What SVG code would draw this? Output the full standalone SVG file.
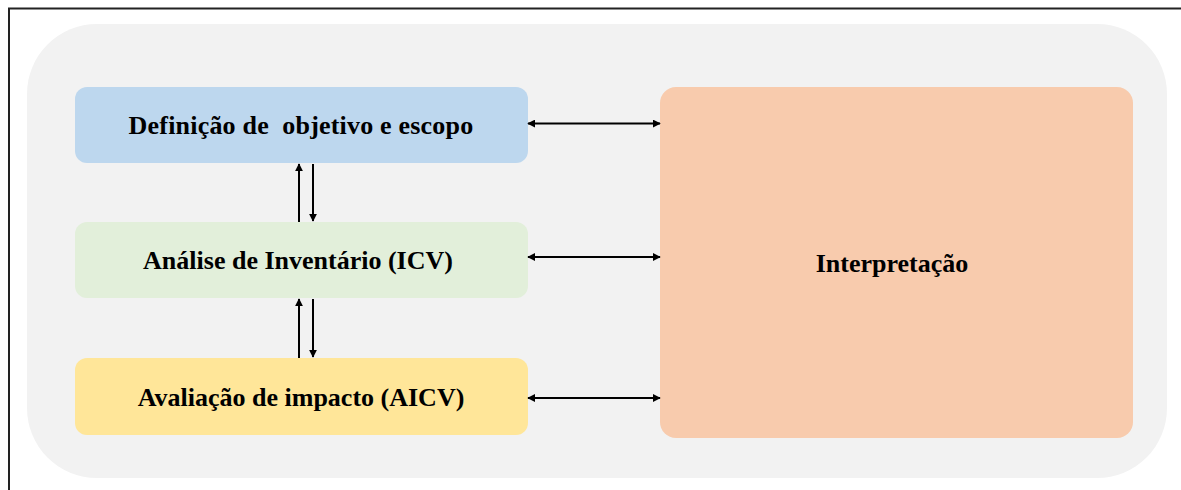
<svg xmlns="http://www.w3.org/2000/svg" width="1181" height="490" viewBox="0 0 1181 490">
  <style>
    .label { font-family: "Liberation Serif", "Times New Roman", serif; font-weight: bold; font-size: 26px; fill: #000; text-anchor: middle; white-space: pre; }
    .conn { stroke: #000; stroke-width: 2; fill: none; }
  </style>
  <defs>
    <marker id="head" viewBox="0 0 10 10" refX="9" refY="5" markerWidth="4" markerHeight="4" orient="auto-start-reverse" markerUnits="strokeWidth">
      <path d="M0,0 L10,5 L0,10 z" fill="#000"/>
    </marker>
  </defs>

  <!-- page background and frame -->
  <rect x="0" y="0" width="1181" height="490" fill="#fff"/>
  <path d="M9,490 L9,8.5 L1181,8.5" fill="none" stroke="#222" stroke-width="2"/>

  <!-- outer panel -->
  <rect id="panel" x="27" y="24" width="1140" height="454" rx="70" ry="70" fill="#F2F2F2"/>

  <g id="node-definicao">
    <rect x="75" y="87" width="453" height="76" rx="12" ry="12" fill="#BDD7EE"/>
    <text class="label" x="301" y="134" xml:space="preserve" letter-spacing="0.2">Definição de  objetivo e escopo</text>
  </g>

  <g id="node-inventario">
    <rect x="75" y="222" width="453" height="76" rx="12" ry="12" fill="#E2EFDA"/>
    <text class="label" x="298" y="269">Análise de Inventário (ICV)</text>
  </g>

  <g id="node-avaliacao">
    <rect x="75" y="358" width="453" height="77" rx="12" ry="12" fill="#FFE699"/>
    <text class="label" x="301" y="406">Avaliação de impacto (AICV)</text>
  </g>

  <g id="node-interpretacao">
    <rect x="660" y="87" width="473" height="351" rx="16" ry="16" fill="#F8CBAD"/>
    <text class="label" x="892" y="272">Interpretação</text>
  </g>

  <g id="connectors">
    <!-- between the stacked phases -->
    <line class="conn" x1="299" y1="222" x2="299" y2="164" marker-end="url(#head)"/>
    <line class="conn" x1="313" y1="164" x2="313" y2="221" marker-end="url(#head)"/>
    <line class="conn" x1="299" y1="358" x2="299" y2="299" marker-end="url(#head)"/>
    <line class="conn" x1="313" y1="299" x2="313" y2="357" marker-end="url(#head)"/>
    <!-- each phase to interpretation -->
    <line class="conn" x1="528" y1="123.5" x2="660" y2="123.5" marker-start="url(#head)" marker-end="url(#head)"/>
    <line class="conn" x1="528" y1="257" x2="660" y2="257" marker-start="url(#head)" marker-end="url(#head)"/>
    <line class="conn" x1="528" y1="398" x2="660" y2="398" marker-start="url(#head)" marker-end="url(#head)"/>
  </g>
</svg>
